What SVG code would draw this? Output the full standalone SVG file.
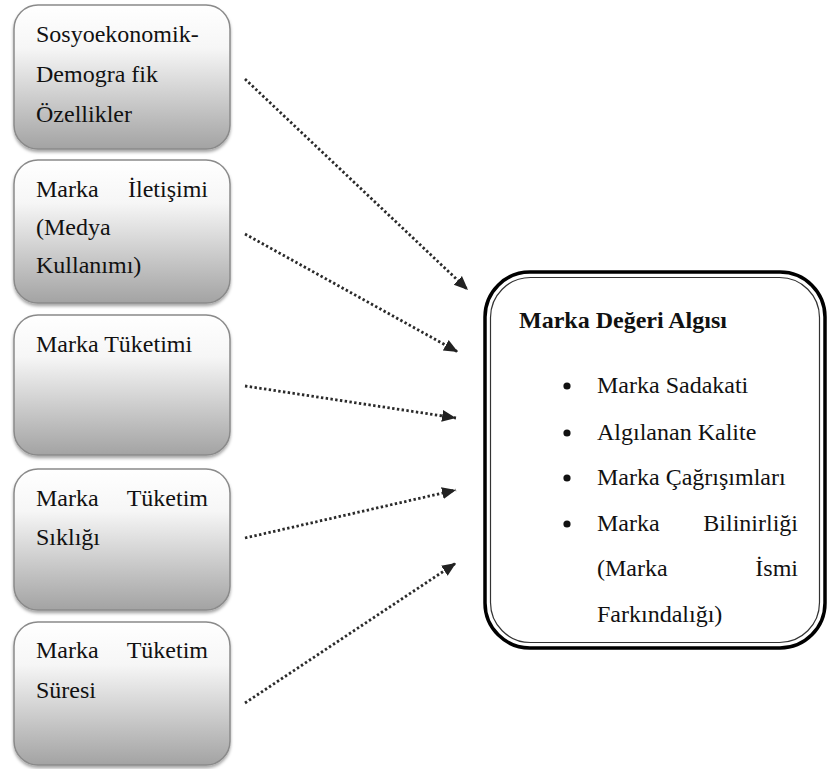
<svg xmlns="http://www.w3.org/2000/svg" width="829" height="769" viewBox="0 0 829 769">
  <defs>
    <linearGradient id="boxFill" x1="0" y1="0" x2="0" y2="1">
      <stop offset="0" stop-color="#ffffff"/>
      <stop offset="0.3" stop-color="#f6f6f6"/>
      <stop offset="1" stop-color="#a3a3a3"/>
    </linearGradient>
    <filter id="shadow" x="-10%" y="-10%" width="120%" height="125%">
      <feDropShadow dx="0" dy="2.5" stdDeviation="1.6" flood-color="#000" flood-opacity="0.35"/>
    </filter>
    <marker id="arrow" markerUnits="userSpaceOnUse" markerWidth="16" markerHeight="16" viewBox="0 0 16 16" refX="14" refY="8" orient="auto">
      <path d="M0,2 L14,8 L0,14 Z" fill="#222"/>
    </marker>
  </defs>
  <style>
    .src { fill: url(#boxFill); stroke: #8a8a8a; stroke-width: 1.5; filter: url(#shadow); }
    .b { font-weight: bold; }
    .end { text-anchor: end; }
    .link { fill: none; stroke: #2a2a2a; stroke-width: 2.8; stroke-dasharray: 2.4 2.4; marker-end: url(#arrow); }
  </style>
  <rect width="829" height="769" fill="#ffffff"/>

  <g id="node-sosyoekonomik" font-family="Nimbus Roman" font-size="24" fill="#111111">
    <rect class="src" x="14" y="5" width="216" height="144" rx="24"/>
    <text x="36" y="42">Sosyoekonomik-</text>
    <text x="36" y="82">Demogra fik</text>
    <text x="36" y="122">Özellikler</text>
  </g>

  <g id="node-iletisim" font-family="Nimbus Roman" font-size="24" fill="#111111">
    <rect class="src" x="14" y="160" width="216" height="143" rx="24"/>
    <text x="36" y="197">Marka</text>
    <text class="end" x="208" y="197">İletişimi</text>
    <text x="36" y="235">(Medya</text>
    <text x="36" y="273">Kullanımı)</text>
  </g>

  <g id="node-tuketim" font-family="Nimbus Roman" font-size="24" fill="#111111">
    <rect class="src" x="14" y="315" width="216" height="140" rx="24"/>
    <text x="36" y="352">Marka Tüketimi</text>
  </g>

  <g id="node-siklik" font-family="Nimbus Roman" font-size="24" fill="#111111">
    <rect class="src" x="14" y="469" width="216" height="141" rx="24"/>
    <text x="36" y="506">Marka</text>
    <text class="end" x="208" y="506">Tüketim</text>
    <text x="36" y="545">Sıklığı</text>
  </g>

  <g id="node-sure" font-family="Nimbus Roman" font-size="24" fill="#111111">
    <rect class="src" x="14" y="622" width="216" height="143" rx="24"/>
    <text x="36" y="658">Marka</text>
    <text class="end" x="208" y="658">Tüketim</text>
    <text x="36" y="698">Süresi</text>
  </g>

  <g id="node-marka-degeri" font-family="Nimbus Roman" font-size="24" fill="#111111">
    <rect x="485" y="272" width="340" height="376" rx="45" fill="#ffffff" stroke="#000" stroke-width="3.5"/>
    <rect x="490.5" y="277.5" width="329" height="365" rx="40" fill="none" stroke="#333" stroke-width="1.2"/>
    <text class="b" x="519" y="328">Marka Değeri Algısı</text>
    <circle cx="567" cy="386" r="3.6"/>
    <circle cx="567" cy="433" r="3.6"/>
    <circle cx="567" cy="478" r="3.6"/>
    <circle cx="567" cy="524" r="3.6"/>
    <text x="597" y="393">Marka Sadakati</text>
    <text x="597" y="440">Algılanan Kalite</text>
    <text x="597" y="485">Marka Çağrışımları</text>
    <text x="597" y="531">Marka</text>
    <text class="end" x="798" y="531">Bilinirliği</text>
    <text x="597" y="576">(Marka</text>
    <text class="end" x="798" y="576">İsmi</text>
    <text x="597" y="622">Farkındalığı)</text>
  </g>

  <g id="connectors">
    <line class="link" x1="245" y1="79" x2="468" y2="290"/>
    <line class="link" x1="245" y1="234" x2="458" y2="352"/>
    <line class="link" x1="245" y1="386" x2="456" y2="418"/>
    <line class="link" x1="245" y1="538" x2="456" y2="490"/>
    <line class="link" x1="245" y1="703" x2="456" y2="563"/>
  </g>
</svg>
